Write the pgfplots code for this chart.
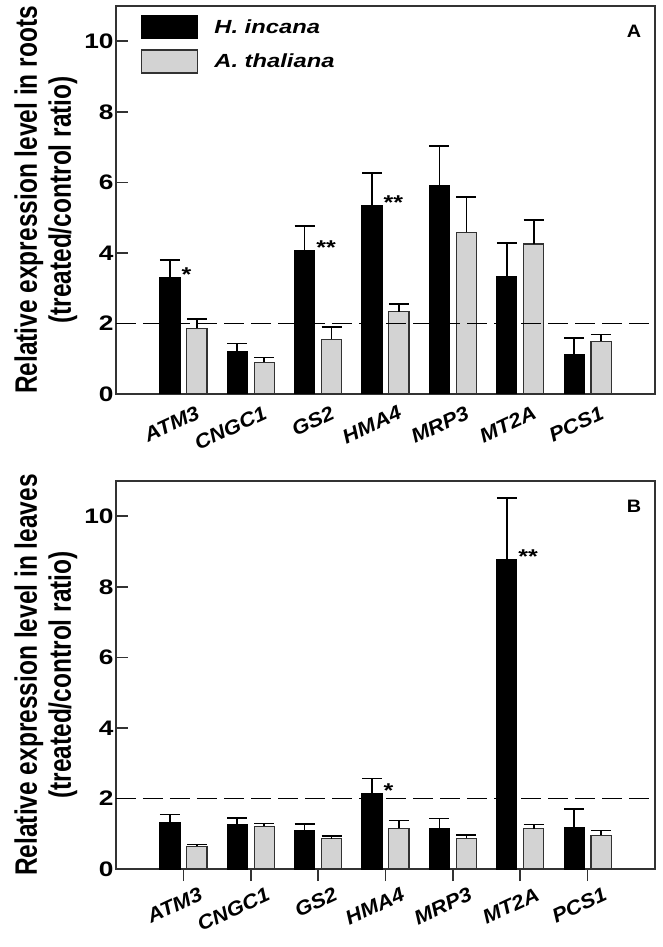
\documentclass[border=0pt]{standalone}
\usepackage{fontspec}
\setmainfont{Liberation Sans}
\newfontfamily\widefont{Liberation Sans}[FakeStretch=1.25]
\newfontfamily\midfont{Liberation Sans}[FakeStretch=1.1]
\newfontfamily\narrowfont{Liberation Sans}[FakeStretch=0.79]
\usepackage{pgfplots}
\usepackage{pgfplotstable}
\pgfplotsset{compat=1.18}

\definecolor{barg}{RGB}{211,211,211}
\definecolor{frm}{RGB}{50,50,50}

% x  value  err(plus)
\pgfplotstableread{
x y e
0 3.30 0.50
1 1.20 0.23
2 4.06 0.71
3 5.35 0.92
4 5.91 1.12
5 3.33 0.95
6 1.11 0.47
}\rootsH
\pgfplotstableread{
x y e
0 1.86 0.26
1 0.90 0.14
2 1.55 0.35
3 2.33 0.23
4 4.58 1.00
5 4.25 0.69
6 1.49 0.20
}\rootsA
\pgfplotstableread{
x y e
0 1.32 0.23
1 1.25 0.20
2 1.10 0.17
3 2.15 0.42
4 1.15 0.28
5 8.77 1.75
6 1.17 0.53
}\leavesH
\pgfplotstableread{
x y e
0 0.64 0.06
1 1.21 0.08
2 0.86 0.07
3 1.15 0.23
4 0.87 0.09
5 1.14 0.12
6 0.95 0.14
}\leavesA

\tikzset{sigstar/.style={font=\widefont\bfseries\fontsize{20}{24}\selectfont, anchor=base west, inner sep=0pt, yshift=-4pt}}

\pgfplotsset{
  myaxis/.style={
    width=539pt, height=388pt, scale only axis,
    xmin=-1, xmax=7, ymin=0, ymax=11,
    xtick={0,...,6},
    xticklabels={ATM3,CNGC1,GS2,HMA4,MRP3,MT2A,PCS1},
    ytick={0,2,...,10},
    ytick pos=left, xtick pos=bottom,
    tick align=inside,
    major tick length=12pt,
    axis line style={line width=1.6pt, draw=frm},
    every tick/.style={line width=1.6pt, draw=frm},
    /pgf/number format/assume math mode=true,
    yticklabel style={font=\widefont\bfseries\fontsize{21}{25}\selectfont, xshift=1pt},
    xticklabel style={font=\midfont\bfseries\itshape\fontsize{20}{24}\selectfont,
      rotate=25, anchor=north east, inner sep=0pt, xshift=6pt},
    ylabel style={font=\narrowfont\bfseries\fontsize{31}{34}\selectfont, align=center},
    clip=false,
  },
  hbar/.style={ybar, bar width=0.3, bar shift=0pt, fill=black, draw=black, line width=1pt,
    error bars/.cd, y dir=plus, y explicit,
    error bar style={line width=1.6pt, black},
    error mark options={rotate=90, mark size=10pt, line width=1.6pt, black},
    /pgfplots/.cd},
  abar/.style={ybar, bar width=0.3, bar shift=0pt, fill=barg, draw=frm, line width=1.2pt,
    error bars/.cd, y dir=plus, y explicit,
    error bar style={line width=1.6pt, black},
    error mark options={rotate=90, mark size=10pt, line width=1.6pt, black},
    /pgfplots/.cd},
}

\begin{document}
\begin{tikzpicture}
\path[use as bounding box] (-116pt,-553pt) rectangle (546pt,394pt);

\begin{axis}[myaxis, at={(0pt,0pt)}, anchor=south west,
  ylabel={Relative expression level in roots\\(treated/control ratio)},
  major x tick style={draw=none},
  xticklabel style={yshift=-15pt},
  legend style={at={(0,1)}, anchor=north west, xshift=25pt, yshift=-9pt,
    draw=none, fill=none, inner sep=0pt,
    font=\widefont\bfseries\itshape\fontsize{19}{23}\selectfont, row sep=10pt,
    /tikz/every odd column/.append style={column sep=14pt}},
  legend cell align=left]
\addlegendimage{legend image code/.code={\draw[fill=black, draw=black, line width=1.2pt] (0pt,-11.5pt) rectangle (56pt,11.5pt);}}
\addlegendentry{H. incana}
\addlegendimage{legend image code/.code={\draw[fill=barg, draw=frm, line width=1.2pt] (0pt,-11.5pt) rectangle (56pt,11.5pt);}}
\addlegendentry{A. thaliana}
\addplot[forget plot, hbar] table[x expr=\thisrow{x}-0.2, y=y, y error=e] {\rootsH};
\addplot[forget plot, abar] table[x expr=\thisrow{x}+0.2, y=y, y error=e] {\rootsA};
\addplot[forget plot, black, line width=1.6pt, dash pattern=on 20pt off 7pt] coordinates {(-1,2) (7,2)};
\node[sigstar] at (axis cs:-0.03,3.30) {*};
\node[sigstar] at (axis cs:1.97,4.06) {**};
\node[sigstar] at (axis cs:2.97,5.35) {**};
\node[font=\midfont\bfseries\fontsize{18}{22}\selectfont] at (axis description cs:0.961,0.936) {A};
\end{axis}

\begin{axis}[myaxis, at={(0pt,-475pt)}, anchor=south west,
  ylabel={Relative expression level in leaves\\(treated/control ratio)},
  major x tick style={yshift=-12pt},
  xticklabel style={yshift=-22pt}]
\addplot[hbar] table[x expr=\thisrow{x}-0.2, y=y, y error=e] {\leavesH};
\addplot[abar] table[x expr=\thisrow{x}+0.2, y=y, y error=e] {\leavesA};
\addplot[black, line width=1.6pt, dash pattern=on 20pt off 7pt] coordinates {(-1,2) (7,2)};
\node[sigstar] at (axis cs:2.97,2.15) {*};
\node[sigstar] at (axis cs:4.97,8.77) {**};
\node[font=\midfont\bfseries\fontsize{18}{22}\selectfont] at (axis description cs:0.961,0.936) {B};
\end{axis}
\end{tikzpicture}
\end{document}
